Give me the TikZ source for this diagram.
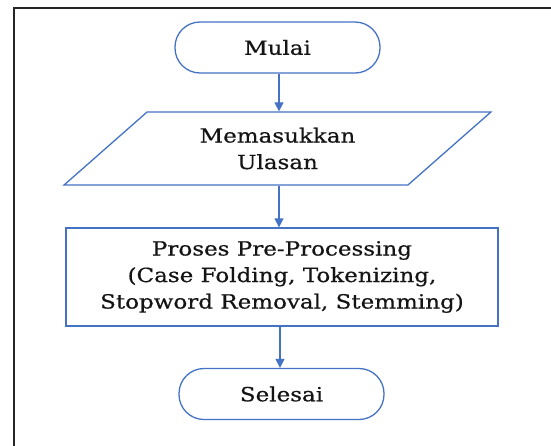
\documentclass[tikz,border=0pt]{standalone}
\usepackage{fontspec}
\setmainfont{DejaVu Serif}[FakeStretch=1.18,FakeBold=0.6]
\usetikzlibrary{shapes.geometric,arrows.meta}
\definecolor{flowblue}{RGB}{68,114,196}
\definecolor{txt}{RGB}{20,20,20}
\tikzset{
  base/.style={draw=flowblue, line width=1.3pt, text=txt, align=center,
    font=\fontsize{19.5}{26.5}\selectfont, inner sep=0pt},
  terminal/.style={base, rectangle, rounded corners=25pt, minimum width=205pt, minimum height=51pt},
  iobox/.style={base, trapezium, trapezium left angle=40, trapezium right angle=140,
    trapezium stretches=true, minimum width=427pt, minimum height=73pt},
  procbox/.style={base, rectangle, minimum width=432pt, minimum height=98pt},
  flow/.style={draw=flowblue, line width=1.3pt, -{Triangle[length=9pt,width=9pt]}},
  frame/.style={draw=black!85, line width=2pt}
}
\begin{document}
\begin{tikzpicture}[x=1pt,y=-1pt]
\useasboundingbox (0,0) rectangle (551,445);
\fill[white] (0,0) rectangle (551,445);
\draw[frame] (14,450) -- (14,8) -- (560,8);
\node[terminal] (mulai) at (277.5,47.5) {Mulai};
\node[iobox] (input) at (277.5,148.5) {Memasukkan\\Ulasan};
\node[procbox] (proc) at (282,277) {Proses Pre-Processing\\(Case Folding, Tokenizing,\\Stopword Removal, Stemming)};
\node[terminal] (selesai) at (281.5,394) {Selesai};
\draw[flow] ([xshift=1.5pt]mulai.south) -- ([xshift=1.5pt]mulai.south |- input.north);
\draw[flow] ([xshift=1.5pt]input.south) -- ([xshift=1.5pt]input.south |- proc.north);
\draw[flow] ([xshift=-2pt]proc.south) -- ([xshift=-2pt]proc.south |- selesai.north);
\end{tikzpicture}
\end{document}
